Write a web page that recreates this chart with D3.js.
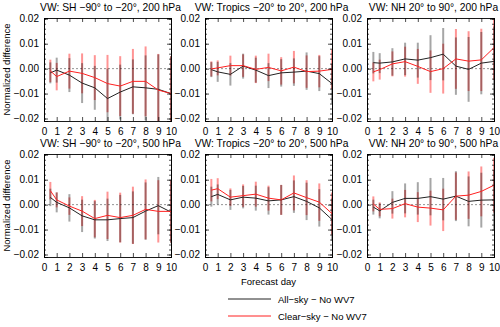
<!DOCTYPE html>
<html>
<head>
<meta charset="utf-8">
<script src="https://cdn.jsdelivr.net/npm/d3@7"></script>
<style>
  body { margin: 0; background: #fff; }
  svg { font-family: "Liberation Sans", Arial, sans-serif; }
  .bar { mix-blend-mode: multiply; }
</style>
</head>
<body>
<svg id="chart"></svg>
<script>
// forecast days (first point is the half day)
var days = [0.5, 1, 2, 3, 4, 5, 6, 7, 8, 9, 10];
var xTicks = [0, 1, 2, 3, 4, 5, 6, 7, 8, 9, 10];
var yTicks = [-0.02, -0.01, 0, 0.01, 0.02];

var titles = [
  'VW: SH \u221290\u00b0 to \u221220\u00b0, 200 hPa',
  'VW: Tropics \u221220\u00b0 to 20\u00b0, 200 hPa',
  'VW: NH 20\u00b0 to 90\u00b0, 200 hPa',
  'VW: SH \u221290\u00b0 to \u221220\u00b0, 500 hPa',
  'VW: Tropics \u221220\u00b0 to 20\u00b0, 500 hPa',
  'VW: NH 20\u00b0 to 90\u00b0, 500 hPa'
];

// All-sky - No WV7 : mean and spread (half-length of bar)
var allMean = [
  [-0.0017, -0.0006, -0.0026, -0.0058, -0.0077, -0.012, -0.0094, -0.0073, -0.0077, -0.0083, -0.010],
  [-0.0004, -0.0013, -0.0023, 0.001, -0.0006, -0.0028, -0.0017, -0.0014, -0.001, -0.002, -0.006],
  [0.0024, 0.0022, 0.0027, 0.0039, 0.0034, 0.0044, 0.0058, 0.001, -0.0003, 0.0022, 0.0029],
  [0.0029, 0.0009, -0.0013, -0.0045, -0.0061, -0.0061, -0.0056, -0.0052, -0.0026, -0.0004, -0.003],
  [0.0032, 0.0041, 0.0019, 0.003, 0.0026, 0.0015, 0.0019, 0.0032, 0.0013, -0.0013, -0.006],
  [-0.001, -0.0025, 0.0009, 0.0025, 0.0025, 0.0032, 0.0022, 0.0034, 0.0013, 0.0018, 0.0019]
];
var allSpread = [
  [0.0042, 0.005, 0.0068, 0.008, 0.0088, 0.012, 0.011, 0.011, 0.013, 0.014, 0.015],
  [0.003, 0.004, 0.0045, 0.005, 0.005, 0.005, 0.0055, 0.0055, 0.0075, 0.007, 0.008],
  [0.0043, 0.004, 0.0055, 0.0065, 0.007, 0.009, 0.0105, 0.0115, 0.013, 0.0125, 0.014],
  [0.0035, 0.004, 0.0055, 0.0065, 0.0075, 0.0085, 0.0095, 0.0105, 0.0115, 0.0115, 0.0125],
  [0.004, 0.004, 0.004, 0.0045, 0.005, 0.0055, 0.006, 0.0065, 0.0075, 0.0075, 0.0085],
  [0.003, 0.003, 0.0045, 0.006, 0.0065, 0.0075, 0.0085, 0.01, 0.01, 0.011, 0.012]
];

// Clear-sky - No WV7
var clearMean = [
  [-0.0009, -0.0032, -0.001, -0.0019, -0.0036, -0.006, -0.007, -0.0051, -0.0051, -0.0086, -0.010],
  [-0.0001, 0.0003, 0.0012, 0.0012, -0.0003, 0.0005, -0.0009, 0.0006, -0.0012, -0.001, -0.0003],
  [-0.0013, -0.0004, 0.0019, 0.0028, 0.0009, -0.0012, 0.0, 0.0039, 0.003, 0.0035, 0.0084],
  [0.0056, 0.0019, -0.0006, -0.0026, -0.0056, -0.0043, -0.0052, -0.0043, -0.0019, -0.0027, -0.0027],
  [0.0058, 0.0064, 0.003, 0.0036, 0.0042, 0.0026, 0.0019, 0.0047, 0.0028, 0.001, -0.0036],
  [0.0003, -0.0019, -0.0016, 0.0004, -0.001, -0.0014, -0.0021, 0.0034, 0.0038, 0.0053, 0.0078]
];
var clearSpread = [
  [0.0045, 0.0055, 0.007, 0.008, 0.009, 0.0115, 0.012, 0.013, 0.014, 0.0145, 0.015],
  [0.003, 0.003, 0.004, 0.0045, 0.0055, 0.0055, 0.0055, 0.0065, 0.0065, 0.0065, 0.008],
  [0.0038, 0.004, 0.005, 0.006, 0.007, 0.0085, 0.01, 0.012, 0.012, 0.0125, 0.013],
  [0.0035, 0.003, 0.0035, 0.006, 0.0075, 0.0095, 0.01, 0.0115, 0.012, 0.0125, 0.0125],
  [0.0045, 0.0042, 0.0035, 0.0045, 0.005, 0.005, 0.006, 0.007, 0.007, 0.0075, 0.0085],
  [0.003, 0.0028, 0.004, 0.0055, 0.006, 0.007, 0.0085, 0.0095, 0.0095, 0.01, 0.011]
];

var legendLabels = ['All\u2212sky \u2212 No WV7', 'Clear\u2212sky \u2212 No WV7'];

var W = 500, H = 327;
var svg = d3.select('#chart').attr('width', W).attr('height', H);

var lefts = [44, 205, 367], tops = [18, 154];
var pw = 127, ph = 103;

var x = d3.scaleLinear().domain([0, 10]).range([0, pw]);
var y = d3.scaleLinear().domain([-0.021, 0.0203]).range([ph, 0]);

function fmt(v) {
  if (Math.abs(v) < 1e-9) return '0.00';
  return d3.format('.2f')(v).replace('-', '\u2212');
}

function drawPanel(i) {
  var g = svg.append('g')
      .attr('transform', 'translate(' + lefts[i % 3] + ',' + tops[Math.floor(i / 3)] + ')');

  g.append('clipPath').attr('id', 'clip' + i)
    .append('rect').attr('width', pw).attr('height', ph);

  var plot = g.append('g').attr('clip-path', 'url(#clip' + i + ')');

  // zero line
  plot.append('line')
      .attr('x1', 0).attr('x2', pw)
      .attr('y1', y(0)).attr('y2', y(0))
      .attr('stroke', '#777').attr('stroke-width', 0.8)
      .attr('stroke-dasharray', '2,2');

  var series = [
    { mean: allMean[i], spread: allSpread[i], bar: '#a6a6a6', line: '#222' },
    { mean: clearMean[i], spread: clearSpread[i], bar: '#ff9494', line: '#ff2020' }
  ];

  series.forEach(function (s) {
    plot.selectAll(null).data(days).enter()
        .append('line')
        .attr('class', 'bar')
        .attr('x1', function (d) { return x(d); })
        .attr('x2', function (d) { return x(d); })
        .attr('y1', function (d, k) { return y(s.mean[k] - s.spread[k]); })
        .attr('y2', function (d, k) { return y(s.mean[k] + s.spread[k]); })
        .attr('stroke', s.bar)
        .attr('stroke-width', 2);
  });

  series.forEach(function (s) {
    var line = d3.line()
        .x(function (d) { return x(d); })
        .y(function (d, k) { return y(s.mean[k]); });
    plot.append('path')
        .datum(days)
        .attr('d', line)
        .attr('fill', 'none')
        .attr('stroke', s.line)
        .attr('stroke-width', 1);
  });

  // axes: ticks inside on all four sides
  g.append('g').attr('transform', 'translate(0,' + ph + ')')
      .call(d3.axisBottom(x).tickValues(xTicks).tickSize(-4).tickPadding(7).tickFormat(d3.format('d')));
  g.append('g')
      .call(d3.axisTop(x).tickValues(xTicks).tickSize(-4).tickFormat(''));

  var minor = d3.range(-20, 21, 2).map(function (v) { return v / 1000; });
  g.append('g')
      .call(d3.axisLeft(y).tickValues(minor).tickSize(-2).tickFormat(''));
  g.append('g')
      .call(d3.axisLeft(y).tickValues(yTicks).tickSize(-4).tickPadding(5).tickFormat(fmt));
  g.append('g').attr('transform', 'translate(' + pw + ',0)')
      .call(d3.axisRight(y).tickValues(minor).tickSize(-2).tickFormat(''));
  g.append('g').attr('transform', 'translate(' + pw + ',0)')
      .call(d3.axisRight(y).tickValues(yTicks).tickSize(-4).tickFormat(''));

  g.selectAll('.domain').attr('stroke', '#000').attr('stroke-width', 0.9);
  g.selectAll('.tick line').attr('stroke', '#000').attr('stroke-width', 0.7);
  g.selectAll('.tick text').attr('font-size', 10).attr('fill', '#000')
      .style('font-family', '"Liberation Sans", Arial, sans-serif');

  g.append('text')
      .attr('x', pw / 2 + 3).attr('y', -7)
      .attr('text-anchor', 'middle')
      .attr('font-size', 10.3)
      .text(titles[i]);

  if (i % 3 === 0) {
    g.append('text')
        .attr('transform', 'translate(' + (-34) + ',' + (ph / 2) + ') rotate(-90)')
        .attr('text-anchor', 'middle')
        .attr('font-size', 9.5)
        .text('Normalized difference');
  }
  if (i === 4) {
    g.append('text')
        .attr('x', pw / 2).attr('y', ph + 28)
        .attr('text-anchor', 'middle')
        .attr('font-size', 9.5)
        .text('Forecast day');
  }
}

for (var i = 0; i < 6; i++) drawPanel(i);

// legend
var legendColors = ['#222', '#ff2020'];
var leg = svg.append('g').attr('transform', 'translate(228,299)');
legendLabels.forEach(function (lab, k) {
  leg.append('line')
      .attr('x1', 0).attr('x2', 43)
      .attr('y1', k * 17).attr('y2', k * 17)
      .attr('stroke', legendColors[k]).attr('stroke-width', 1);
  leg.append('text')
      .attr('x', 50).attr('y', k * 17 + 3.5)
      .attr('font-size', 9.5)
      .text(lab);
});
</script>
</body>
</html>
